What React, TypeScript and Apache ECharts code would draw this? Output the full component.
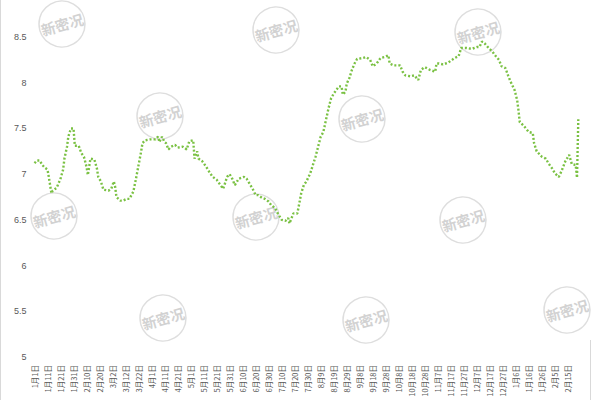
import React, { useEffect, useRef } from "react";
import * as echarts from "echarts";

// Daily category axis: Jan 1 (non-leap year) through Feb 23 of the next year
const startYear = 2019;
const dayCount = 419;

// Key points (day index from Jan 1, value)
const keyDays = [
  0, 2, 4, 6, 8, 10, 11, 12, 13, 14, 17, 20, 22, 23, 25, 26, 28, 30, 31, 34,
  36, 38, 40, 41, 42, 43, 46, 48, 49, 51, 53, 57, 59, 61, 62, 63, 66, 68, 71, 73,
  76, 78, 80, 82, 83, 85, 89, 93, 95, 96, 98, 100, 101, 103, 105, 108, 110, 114, 117, 119,
  122, 123, 125, 126, 129, 132, 135, 137, 140, 143, 145, 146, 148, 150, 152, 154, 157, 161, 163, 166,
  168, 170, 172, 175, 177, 180, 182, 185, 187, 190, 193, 195, 196, 199, 202, 203, 205, 207, 209, 212,
  214, 216, 218, 220, 222, 224, 226, 228, 230, 232, 234, 236, 237, 239, 240, 242, 244, 246, 248, 252,
  255, 258, 260, 263, 266, 269, 272, 273, 276, 281, 283, 285, 289, 292, 295, 297, 300, 304, 308, 309,
  311, 314, 318, 321, 323, 326, 328, 332, 336, 340, 342, 344, 346, 349, 352, 354, 357, 359, 362, 364,
  366, 369, 371, 372, 373, 376, 380, 383, 384, 386, 390, 393, 395, 398, 400, 403, 405, 408, 411, 413,
  416, 417, 418,
];
const keyValues = [
  7.12, 7.15, 7.15, 7.1, 7.07, 7.05, 6.97, 6.88, 6.79, 6.82, 6.85, 6.95, 7.05, 7.17, 7.3, 7.41, 7.5, 7.5, 7.31, 7.31,
  7.23, 7.19, 7.08, 6.99, 7.08, 7.17, 7.16, 7.06, 6.97, 6.92, 6.83, 6.82, 6.84, 6.92, 6.86, 6.75, 6.71, 6.71, 6.73, 6.73,
  6.81, 6.95, 7.1, 7.25, 7.34, 7.37, 7.38, 7.38, 7.41, 7.35, 7.41, 7.35, 7.34, 7.27, 7.3, 7.32, 7.29, 7.3, 7.27, 7.36,
  7.37, 7.17, 7.25, 7.17, 7.14, 7.08, 7.01, 6.97, 6.94, 6.88, 6.84, 6.88, 6.97, 7.0, 6.95, 6.88, 6.95, 6.97, 6.95, 6.88,
  6.83, 6.77, 6.77, 6.74, 6.73, 6.7, 6.66, 6.63, 6.57, 6.5, 6.49, 6.52, 6.46, 6.57, 6.57, 6.64, 6.79, 6.88, 6.92, 7.01,
  7.1, 7.19, 7.3, 7.41, 7.46, 7.59, 7.72, 7.83, 7.88, 7.92, 7.96, 7.96, 7.87, 7.9, 7.99, 8.05, 8.14, 8.21, 8.26, 8.27,
  8.28, 8.25, 8.18, 8.21, 8.27, 8.28, 8.3, 8.21, 8.19, 8.19, 8.12, 8.08, 8.07, 8.08, 8.03, 8.14, 8.17, 8.14, 8.12, 8.21,
  8.21, 8.2, 8.22, 8.25, 8.27, 8.29, 8.38, 8.38, 8.37, 8.39, 8.39, 8.45, 8.43, 8.38, 8.34, 8.3, 8.25, 8.18, 8.16, 8.08,
  8.01, 7.92, 7.81, 7.7, 7.57, 7.53, 7.46, 7.45, 7.34, 7.25, 7.19, 7.17, 7.12, 7.06, 7.01, 6.97, 7.03, 7.14, 7.21, 7.11,
  7.1, 6.96, 7.6,
];

const yMin = 5;
const yMax = 8.5;
const yInterval = 0.5;

const watermarkText = "新密况";
const watermarkCenters: [number, number][] = [
  [62, 24], [276, 30], [478, 32],
  [160, 116], [362, 119],
  [54, 216], [256, 217], [463, 220],
  [163, 318], [366, 320], [567, 310],
];

function buildCategories(): string[] {
  const out: string[] = [];
  const d = new Date(startYear, 0, 1);
  for (let i = 0; i < dayCount; i++) {
    out.push(`${d.getMonth() + 1}月${d.getDate()}日`);
    d.setDate(d.getDate() + 1);
  }
  return out;
}

export default function App() {
  const ref = useRef<HTMLDivElement>(null);
  useEffect(() => {
    if (!ref.current) return;
    const chart = echarts.init(ref.current, null, { renderer: "svg" });
    const categories = buildCategories();
    const seriesData = keyDays.map((d, i) => [d, keyValues[i]]);

    const watermarks = watermarkCenters.map(([x, y]) => ({
      type: "group",
      x,
      y,
      silent: true,
      z: -1,
      children: [
        {
          type: "circle",
          shape: { cx: 0, cy: 0, r: 23 },
          style: { fill: "none", stroke: "#dedede", lineWidth: 1.5 },
        },
        {
          type: "text",
          rotation: (16 * Math.PI) / 180,
          style: {
            text: watermarkText,
            x: 0,
            y: 0,
            align: "center",
            verticalAlign: "middle",
            fill: "#d2d2d2",
            font: "bold 14.5px 'Noto Sans CJK SC'",
          },
        },
      ],
    }));

    chart.setOption({
      animation: false,
      backgroundColor: "#ffffff",
      grid: { left: 34.5, right: 21.7, top: 37, bottom: 43, containLabel: false },
      xAxis: {
        type: "category",
        data: categories,
        boundaryGap: false,
        axisLine: { show: false },
        axisTick: { show: false },
        splitLine: { show: false },
        axisLabel: {
          interval: 9,
          rotate: 90,
          margin: 8,
          fontSize: 7.5,
          color: "#595959",
          fontFamily: "'Noto Sans CJK SC', sans-serif",
        },
      },
      yAxis: {
        type: "value",
        min: yMin,
        max: yMax,
        interval: yInterval,
        axisLine: { show: false },
        axisTick: { show: false },
        splitLine: { show: false },
        axisLabel: {
          margin: 8,
          fontSize: 9,
          color: "#595959",
          fontFamily: "'Liberation Sans', Arial, sans-serif",
        },
      },
      graphic: [
        ...watermarks,
        {
          type: "line",
          shape: { x1: 0.5, y1: 0, x2: 0.5, y2: 400 },
          style: { stroke: "#d9d9d9", lineWidth: 1 },
        },
        {
          type: "line",
          shape: { x1: 590.5, y1: 340, x2: 590.5, y2: 400 },
          style: { stroke: "#d9d9d9", lineWidth: 1 },
        },
      ],
      series: [
        {
          type: "line",
          data: seriesData,
          symbol: "none",
          smooth: false,
          lineStyle: { color: "#7ac143", width: 2.4, type: [2, 2], cap: "butt" },
          z: 3,
        },
      ],
    });
    return () => chart.dispose();
  }, []);
  return (
    <div
      ref={ref}
      style={{ position: "absolute", left: 0, top: 0, width: 600, height: 400 }}
    />
  );
}
